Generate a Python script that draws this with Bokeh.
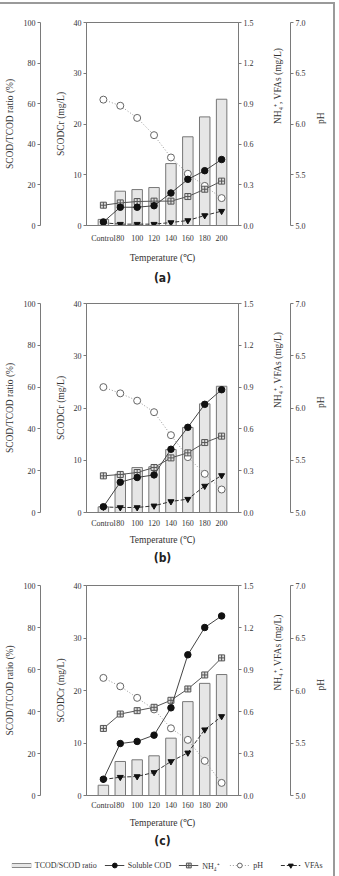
import math
import numpy as np
from bokeh.plotting import figure
from bokeh.models import (Range1d, LinearAxis, FixedTicker, FactorRange, Title,
                          Legend, LegendItem, NumeralTickFormatter, ColumnDataSource)
from bokeh.layouts import column
from bokeh.embed import file_html
from bokeh.resources import INLINE

# Hydrothermal pretreatment temperatures (categorical x axis)
categories = ["Control", "80", "100", "120", "140", "160", "180", "200"]

# Axis ticks
ratio_ticks = [0, 20, 40, 60, 80, 100]
scod_ticks = [0, 10, 20, 30, 40]
nh4_ticks = [0.0, 0.3, 0.6, 0.9, 1.2, 1.5]
ph_ticks = [5.0, 5.5, 6.0, 6.5, 7.0]

# Panel (a)
ratio_a = [3.0, 16.9, 17.7, 18.7, 30.5, 43.7, 53.5, 62.2]
scod_a = [0.7, 3.6, 3.6, 3.9, 6.4, 9.1, 10.8, 13.0]
nh4_a = [0.15, 0.167, 0.177, 0.18, 0.18, 0.214, 0.268, 0.328]
ph_a = [6.24, 6.18, 6.06, 5.89, 5.67, 5.51, 5.39, 5.27]
vfa_a = [0.02, 0.01, 0.01, 0.01, 0.022, 0.037, 0.074, 0.106]

# Panel (b)
ratio_b = [2.7, 18.3, 21.5, 21.9, 30.1, 40.7, 52.0, 60.4]
scod_b = [1.1, 5.8, 6.7, 7.2, 12.1, 16.3, 20.7, 23.5]
nh4_b = [0.263, 0.273, 0.287, 0.323, 0.392, 0.428, 0.502, 0.548]
ph_b = [6.20, 6.14, 6.07, 5.96, 5.74, 5.53, 5.37, 5.22]
vfa_b = [0.04, 0.036, 0.036, 0.048, 0.079, 0.096, 0.19, 0.266]

# Panel (c)
ratio_c = [4.9, 16.2, 17.0, 18.9, 27.3, 44.7, 53.4, 57.6]
scod_c = [3.1, 9.9, 10.3, 11.5, 16.7, 26.8, 32.0, 34.2]
nh4_c = [0.479, 0.582, 0.606, 0.63, 0.68, 0.761, 0.861, 0.983]
ph_c = [6.12, 6.04, 5.93, 5.82, 5.64, 5.53, 5.33, 5.12]
vfa_c = [0.114, 0.131, 0.136, 0.165, 0.243, 0.305, 0.47, 0.565]

SERIF = "Liberation Serif"
TAG_FONT = "'DejaVu Sans Condensed', 'Liberation Sans', sans-serif"
AXIS_GRAY = "#7a7a7a"
TEXT = "#333333"
FRAME_LINE = "2px solid #9a9a9a"
W = 333

# shared series styles
STYLE = dict(
    bar=dict(fill_color="#e6e6e6", line_color="#777777", line_width=1),
    ph_line=dict(line_color="#9a9a9a", line_dash="1 2", line_width=1),
    ph_pts=dict(marker="circle", size=7, fill_color="white", line_color="#666666",
                line_width=1),
    nh4_line=dict(line_color="#555555", line_width=1),
    nh4_pts=dict(marker="square_cross", size=6, fill_color="#dddddd",
                 line_color="#555555", line_width=1),
    vfa_line=dict(line_color="#333333", line_dash="4 2", line_width=1),
    vfa_pts=dict(marker="inverted_triangle", size=6, fill_color="#111111",
                 line_color="#111111"),
    scod_line=dict(line_color="#444444", line_width=1),
    scod_pts=dict(marker="circle", size=6.5, fill_color="#111111", line_color="#111111"),
)


def style_axis(ax, label, standoff=6, reversed_label=False):
    ax.axis_label = label
    ax.axis_line_color = AXIS_GRAY
    ax.major_tick_line_color = AXIS_GRAY
    ax.major_tick_out = 3
    ax.major_tick_in = 0
    ax.minor_tick_out = 0
    ax.minor_tick_in = 0
    ax.major_label_standoff = 2
    ax.major_label_text_font = SERIF
    ax.major_label_text_font_size = "8px"
    ax.major_label_text_color = TEXT
    ax.axis_label_text_font = SERIF
    ax.axis_label_text_font_size = "9.5px"
    ax.axis_label_text_font_style = "normal"
    ax.axis_label_text_color = TEXT
    ax.axis_label_standoff = standoff
    if reversed_label and "axis_label_orientation" in ax.properties():
        ax.axis_label_orientation = math.pi / 2


def make_panel(tag, ratio, scod, nh4, ph, vfa, height, top, bottom, gaps):
    tick_gap, label_gap, tag_gap = gaps
    p = figure(x_range=FactorRange(*categories, range_padding=0.5,
                                   range_padding_units="absolute"),
               y_range=Range1d(0, 40), width=W, height=height,
               min_border_left=86, min_border_right=W - 246,
               min_border_top=top, min_border_bottom=bottom,
               output_backend="svg", toolbar_location=None)
    p.extra_y_ranges = {"ratio": Range1d(0, 100), "nh4": Range1d(0, 1.5),
                        "ph": Range1d(5, 7)}
    p.xgrid.visible = False
    p.ygrid.visible = False
    p.outline_line_color = AXIS_GRAY

    # left axes: SCODCr (inner) and SCOD/TCOD ratio (outer)
    yax = p.yaxis[0]
    yax.ticker = FixedTicker(ticks=scod_ticks)
    style_axis(yax, " \nSCODCr (mg/L)", standoff=5)
    ax_ratio = LinearAxis(y_range_name="ratio", ticker=FixedTicker(ticks=ratio_ticks))
    style_axis(ax_ratio, "SCOD/TCOD ratio (%)")
    p.add_layout(ax_ratio, "left")

    # right axes: NH4+/VFAs (inner) and pH (outer)
    ax_nh4 = LinearAxis(y_range_name="nh4", ticker=FixedTicker(ticks=nh4_ticks),
                        formatter=NumeralTickFormatter(format="0.0"))
    style_axis(ax_nh4, "NH₄⁺, VFAs (mg/L)", standoff=21, reversed_label=True)
    p.add_layout(ax_nh4, "right")
    ax_ph = LinearAxis(y_range_name="ph", ticker=FixedTicker(ticks=ph_ticks),
                       formatter=NumeralTickFormatter(format="0.0"))
    style_axis(ax_ph, "pH", standoff=12, reversed_label=True)
    p.add_layout(ax_ph, "right")

    xax = p.xaxis[0]
    style_axis(xax, "Temperature (℃)", standoff=label_gap)
    xax.major_tick_out = 0
    xax.major_label_standoff = tick_gap

    src = ColumnDataSource(dict(t=categories, ratio=ratio, scod=scod, nh4=nh4,
                                ph=ph, vfa=vfa))

    p.vbar(x="t", top="ratio", width=0.62, y_range_name="ratio", source=src,
           **STYLE["bar"])
    p.line("t", "ph", y_range_name="ph", source=src, **STYLE["ph_line"])
    p.scatter("t", "ph", y_range_name="ph", source=src, **STYLE["ph_pts"])
    p.line("t", "nh4", y_range_name="nh4", source=src, **STYLE["nh4_line"])
    p.scatter("t", "nh4", y_range_name="nh4", source=src, **STYLE["nh4_pts"])
    p.line("t", "vfa", y_range_name="nh4", source=src, **STYLE["vfa_line"])
    p.scatter("t", "vfa", y_range_name="nh4", source=src, **STYLE["vfa_pts"])
    p.line("t", "scod", source=src, **STYLE["scod_line"])
    p.scatter("t", "scod", source=src, **STYLE["scod_pts"])

    p.add_layout(Title(text=tag, align="center", text_font=TAG_FONT,
                       text_font_size="12px", text_font_style="bold",
                       text_color="#222222", standoff=tag_gap), "below")
    return p


def make_legend(height):
    lf = figure(width=W, height=height, x_range=(0, 1), y_range=(0, 1),
                x_axis_type=None, y_axis_type=None,
                min_border_left=0, min_border_right=0, min_border_top=0,
                min_border_bottom=0, output_backend="svg", toolbar_location=None,
                styles={"border-right": FRAME_LINE, "box-sizing": "content-box"})
    lf.grid.visible = False
    lf.outline_line_color = None
    # key-only renderers: a single missing point, so only the legend glyphs show
    blank = ColumnDataSource(dict(x=np.array([np.nan]), y=np.array([np.nan])))
    sw_out = lf.line("x", "y", source=blank, line_color="#888888", line_width=5)
    sw_in = lf.line("x", "y", source=blank, line_color="#e6e6e6", line_width=3)
    items = [LegendItem(label="TCOD/SCOD ratio", renderers=[sw_out, sw_in])]
    for label, key in [("Soluble COD", "scod"), ("NH₄⁺", "nh4"), ("pH", "ph"),
                       ("VFAs", "vfa")]:
        ln = lf.line("x", "y", source=blank, **STYLE[key + "_line"])
        pt = lf.scatter("x", "y", source=blank, **STYLE[key + "_pts"])
        items.append(LegendItem(label=label, renderers=[ln, pt]))
    legend = Legend(items=items, orientation="horizontal", location="center")
    if "ncols" in legend.properties():
        legend.ncols = len(items)
    legend.label_text_font = SERIF
    legend.label_text_font_size = "8px"
    legend.label_text_color = TEXT
    legend.glyph_width = 20
    legend.glyph_height = 12
    legend.label_standoff = 4
    legend.spacing = 7
    legend.padding = 0
    legend.margin = 0
    legend.border_line_color = None
    legend.background_fill_alpha = 0
    lf.add_layout(legend, "center")
    return lf


pa = make_panel("(a)", ratio_a, scod_a, nh4_a, ph_a, vfa_a, height=286, top=18,
                bottom=65, gaps=(8, 7, 6))
pb = make_panel("(b)", ratio_b, scod_b, nh4_b, ph_b, vfa_b, height=288, top=13,
                bottom=66, gaps=(6, 4, 3))
pc = make_panel("(c)", ratio_c, scod_c, nh4_c, ph_c, vfa_c, height=276, top=7,
                bottom=59, gaps=(5, 5, 2))
pl = make_legend(22)

panels = column(pa, pb, pc, spacing=0,
                styles={"border-top": FRAME_LINE, "border-right": FRAME_LINE,
                        "margin-top": "2px", "box-sizing": "content-box"})
open("out.html", "w").write(file_html([panels, pl], INLINE))
